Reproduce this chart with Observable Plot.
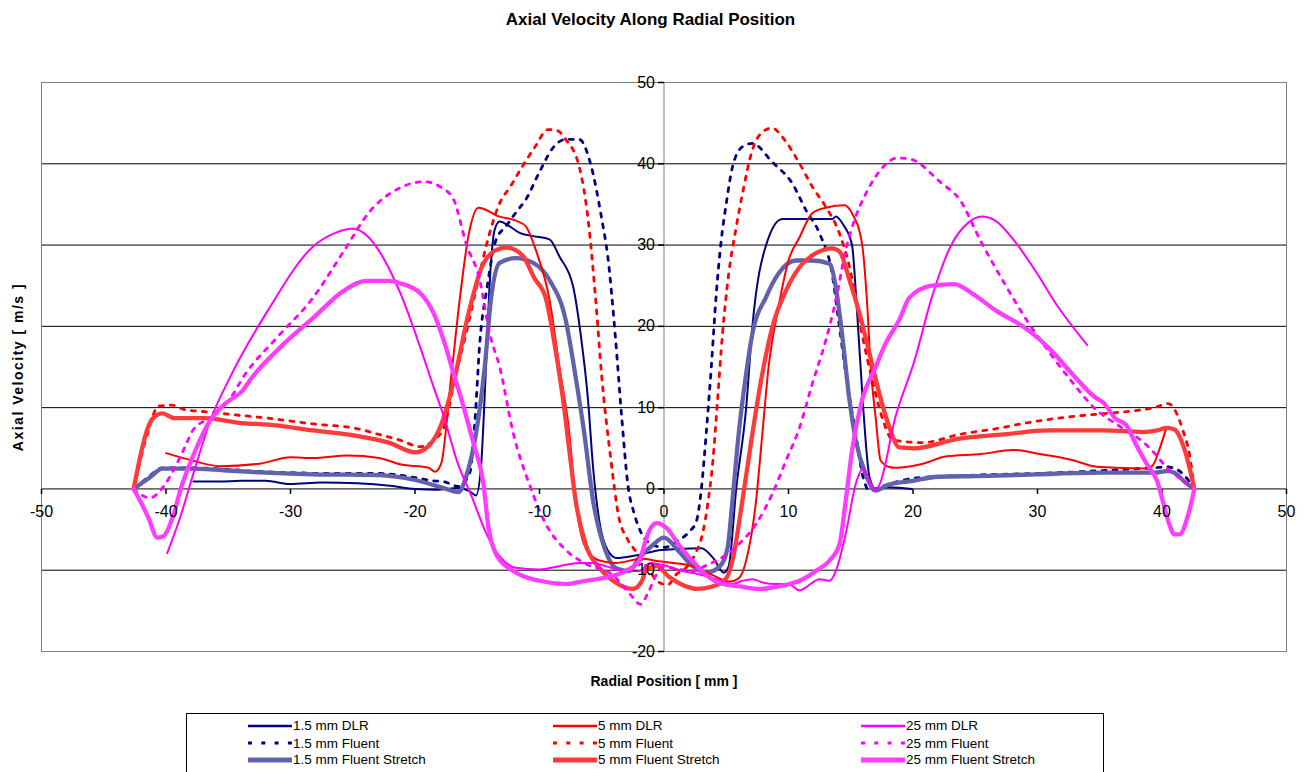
<!DOCTYPE html>
<html><head><meta charset="utf-8">
<script src="https://cdn.jsdelivr.net/npm/d3@7"></script>
<script src="https://cdn.jsdelivr.net/npm/@observablehq/plot@0.6"></script>
<style>
body{margin:0;background:#fff;width:1306px;height:772px;overflow:hidden;position:relative;font-family:"Liberation Sans",Arial,sans-serif;}
#title{height:50px;position:relative}
#title span{position:absolute;left:0;width:1301px;text-align:center;top:10px;font-weight:bold;font-size:17px;color:#000}
#chart svg{display:block}
#legend{position:absolute;left:186px;top:713px;width:918px;height:70px;border:1px solid #000;box-sizing:border-box;background:#fff}
.item{position:absolute;height:17px;display:flex;align-items:center;font-family:"Liberation Sans Narrow","Arial Narrow","Liberation Sans",sans-serif;font-size:13.5px;color:#000;white-space:nowrap}
.item svg{display:block;margin-right:1px}
</style></head><body>
<div id="title"><span>Axial Velocity Along Radial Position</span></div>
<div id="chart"></div>
<div id="legend"></div>
<script>
// ---- data (x = radial position mm, y = axial velocity m/s)
const xTicks = [-50,-40,-30,-20,-10,0,10,20,30,40,50];
const yTicks = [-20,-10,0,10,20,30,40,50];
const gridY = [-10,10,20,30,40];

const dlr15 = [[-37.8,0.9],[-35.7,0.9],[-34,1.0],[-32,1.0],[-30,0.6],[-27.5,0.8],[-24.6,0.7],[-22,0.4],[-20,0.0],[-18.2,-0.1],[-16.6,0.1],[-15.6,-0.3],[-15.1,-0.8],[-14.7,2.7],[-14.3,15],[-14.0,25.3],[-13.6,31.9],[-13.2,32.9],[-12.4,32.3],[-11.6,31.5],[-10.5,31.1],[-9.2,30.7],[-8.4,28.6],[-7.3,24.9],[-6.7,19.1],[-6.1,10.9],[-5.7,2.7],[-5.2,-3.9],[-4.5,-7.6],[-3.8,-8.5],[-2.3,-8.2],[-0.2,-7.5],[3.0,-7.3],[4.0,-8.6],[4.8,-10.3],[5.2,-9.5],[5.8,0],[6.6,10],[7.1,20],[8.2,30],[9.5,33.2],[13.5,33.2],[13.8,33.5],[14.4,32.5],[15.1,30],[15.5,22],[16,10],[16.5,1.5],[17,0],[18,0.2],[19.9,0]];
const flu15 = [[-42.6,0],[-41.3,1.6],[-40.3,2.6],[-38,2.6],[-35,2.4],[-33.2,2.2],[-30,2.0],[-26.8,1.9],[-23,1.9],[-21.8,1.8],[-20,1.4],[-18.5,1.0],[-17.7,0.9],[-16.5,0.3],[-15.6,2],[-15.2,8],[-14.8,17.9],[-14.2,24.9],[-13.5,30.6],[-12.7,32.3],[-11.9,34],[-11.1,35.6],[-10,39],[-8.9,42],[-7.9,43],[-6.8,43],[-5.9,40],[-5.0,33.2],[-4.5,28.4],[-3.9,18.6],[-3.4,8.9],[-2.9,0.5],[-2.4,-3],[-1.8,-5.5],[-1,-6.8],[0,-7.2],[1,-6.5],[2,-5.3],[2.6,-4],[3.0,0],[3.4,7],[3.8,15],[4.2,24],[4.6,30.6],[5.0,35.1],[5.5,39.6],[6.3,42.1],[7.1,42.5],[8.7,40.2],[10.3,37.6],[11.4,34.3],[12.5,31.4],[13.5,26.5],[14.0,21],[14.6,14.2],[15.4,6.8],[16,1.4],[16.5,-0.2],[17.5,0.3],[20,1.3],[25,1.7],[30,1.9],[35.8,2.3],[39.4,2.6],[40.4,2.7],[41.3,2.3],[42.2,0.9],[42.6,0]];
const str15 = [[-42.6,0],[-41.3,1.4],[-40.3,2.5],[-38.1,2.5],[-35.4,2.3],[-33.2,2.1],[-28.2,1.8],[-22.9,1.7],[-20,1.1],[-17.9,0.2],[-16.5,-0.4],[-15.9,1.5],[-15.1,6.8],[-14.4,15],[-13.9,23.3],[-13.2,27.8],[-11.9,28.4],[-10.5,27.8],[-9.2,25.7],[-7.9,20.8],[-7.1,13.8],[-6.4,6.8],[-5.7,-1.4],[-4.7,-7.6],[-3.8,-9.8],[-2.8,-10.1],[-2.0,-8.5],[-0.9,-6.9],[0,-6.0],[1.2,-7.7],[2.3,-9.5],[3.4,-10.3],[4.5,-9.5],[5.1,-7.3],[5.5,-1.4],[6.0,6.8],[6.6,14.2],[7.1,19.1],[8.2,23.6],[9.2,26.5],[10.6,28.1],[11.9,28.1],[13.3,27.7],[13.8,24.8],[14.3,19.1],[14.9,10.9],[15.4,6],[16.2,1.8],[17.0,-0.2],[18,0.5],[20,1.0],[22,1.5],[26,1.6],[30,1.8],[35.3,2.0],[39.4,2.0],[40.4,2.2],[41.0,2.0],[41.8,0.9],[42.6,0]];

const dlr5 = [[-40,4.4],[-37.9,3.5],[-35.7,2.8],[-32.5,3.1],[-30,3.9],[-28.2,3.8],[-25.4,4.1],[-22.9,3.8],[-21.1,3.0],[-18.9,2.6],[-18.4,2.1],[-17.9,3.1],[-17.1,13.7],[-16.4,23.4],[-15.7,31.2],[-14.9,34.6],[-13.2,33.5],[-11.9,33.0],[-11.1,32.3],[-10.3,29.4],[-9.2,23.3],[-8.4,15],[-7.6,6.8],[-7.1,-1.4],[-6.3,-7.2],[-5.2,-8.8],[-3.9,-9.1],[-1.8,-8.6],[-0.4,-8.9],[0.7,-9.1],[2.3,-9.5],[3.9,-10.6],[5.3,-11.4],[6.0,-11],[6.6,-8.8],[7.4,-1.4],[7.9,6.8],[8.4,15],[9.2,22.4],[10,28.1],[10.9,31],[11.9,33.9],[13.0,34.6],[14.5,34.9],[15.1,33.9],[15.9,30.2],[16.3,23.2],[16.6,15],[17.0,8.8],[17.4,3.5],[18.1,2.7],[18.6,2.6],[20.8,3.1],[22.6,4],[25.5,4.3],[28,4.8],[30.2,4.3],[32.7,3.6],[34.5,2.8],[36.3,2.6],[38.8,2.5],[39.3,3.0],[39.8,4.9],[40.3,7.3]];
const flu5 = [[-42.6,0],[-41.5,6.7],[-40.6,10.2],[-39.5,10.3],[-38.6,9.8],[-36.9,9.5],[-35,9.2],[-31.8,8.7],[-28.2,8],[-24.6,7.4],[-22.9,6.7],[-21.2,6],[-19.6,5.2],[-18.5,6],[-17.7,7.5],[-16.7,14.2],[-15.9,19.1],[-15.1,24.5],[-14.0,31.5],[-13.3,34.8],[-12.3,37.3],[-11.4,39.6],[-10.4,42],[-9.3,44.2],[-8.6,44.1],[-7.9,43],[-6.8,39.6],[-6.1,33.2],[-5.5,23.5],[-5.0,13.8],[-4.3,4],[-3.6,-3.7],[-3.0,-6],[-2.2,-7.8],[-1.2,-10],[-0.5,-11.4],[0.3,-11.8],[1.0,-10.5],[1.7,-9.8],[2.5,-8],[3.1,-5.5],[3.5,-2],[3.9,3],[4.3,10.9],[4.7,19.1],[5.2,26.5],[5.8,32.2],[6.3,36.3],[7.1,41.7],[7.9,43.9],[8.7,44.4],[9.5,43.3],[10.9,40],[11.9,37.2],[13,34.7],[14.1,31.4],[14.9,27.3],[15.9,19.1],[16.8,12.9],[17.6,8.4],[18.4,6],[20.8,5.7],[23.7,6.7],[26.6,7.4],[29.8,8.3],[32.7,8.9],[35.6,9.3],[37.7,9.6],[39.4,10],[40.5,10.5],[41,9.8],[41.7,7.1],[42.2,4.3],[42.6,0]];
const str5 = [[-42.6,0],[-41.1,8.6],[-40.3,9.3],[-39.3,8.7],[-36.9,8.7],[-33.9,8.1],[-31.8,7.9],[-28.2,7.2],[-24.6,6.5],[-22.1,5.7],[-20,4.5],[-18.9,5.3],[-17.9,7.9],[-16.8,13.8],[-15.7,21.6],[-14.6,27.4],[-13.6,29.3],[-12.7,29.7],[-11.4,28.8],[-10.4,25.9],[-9.5,23.5],[-8.7,17],[-8.1,10.9],[-7.6,4.7],[-7.1,-1.4],[-6.3,-6.8],[-5.2,-9.7],[-4.1,-11.3],[-2.5,-12.3],[-1.8,-11.4],[-1.4,-9.9],[-0.6,-9.5],[0.4,-10.8],[1.8,-12],[2.6,-12.3],[3.9,-12],[5.0,-11],[5.5,-8.8],[6.3,-1.4],[7.1,6.8],[7.9,14.2],[8.7,19.9],[9.8,24.4],[10.9,27.3],[12.2,29],[13.5,29.6],[14.1,29.2],[14.9,25.7],[15.7,21.6],[16.5,16.7],[17.3,11.7],[18.1,7.6],[18.9,5.1],[20.1,5],[23.7,6.2],[27.3,6.7],[30.9,7.2],[35.3,7.2],[38.5,7.0],[39.6,7.2],[40.4,7.5],[41,7.3],[41.8,4.9],[42.6,0]];

const dlr25 = [[-39.9,-7.9],[-38.8,-3.2],[-37.7,2.4],[-36.4,8.6],[-35,13.3],[-31.8,22],[-28.2,29.8],[-26.4,31.5],[-25,32],[-23.9,31.2],[-22.5,28.3],[-21.1,23.8],[-19.6,17.5],[-18.5,12.5],[-17.7,9],[-16.6,3.3],[-15.4,-1.1],[-14.3,-5.4],[-13.2,-8.3],[-11.9,-9.7],[-10,-9.9],[-8.4,-9.5],[-6.8,-9.1],[-5.7,-9.1],[-4.7,-9.5],[-3.1,-10.1],[-2,-10.1],[-1.1,-9.1],[0,-9.4],[1.5,-10.1],[2.8,-10.5],[4.2,-11.1],[5.5,-11.7],[6.3,-11.3],[7.1,-11.1],[7.9,-11.5],[9,-11.7],[10,-11.7],[10.9,-12.5],[11.4,-12.1],[12.5,-11.1],[13.3,-11.3],[13.8,-10.1],[14.6,-5.5],[15.4,0.6],[16.0,2.5],[16.5,1.0],[16.9,-0.2],[17.3,0.5],[18.6,8.9],[20.1,15.7],[21.5,23.5],[23,29.8],[24.4,32.7],[25.5,33.5],[26.6,33],[28,30.8],[29.8,26.9],[31.6,22.5],[34,17.7]];
const flu25 = [[-42.6,0],[-41.3,-1.1],[-40.2,0.3],[-39.3,2.6],[-38.5,5.1],[-37.8,7.3],[-36.4,8.8],[-35,10.8],[-33.6,14.2],[-31.1,18.6],[-28.2,23.5],[-25.7,29.3],[-23.6,34.2],[-21.5,36.8],[-19.3,37.8],[-17.9,37.1],[-16.9,35.6],[-15.9,30.2],[-14.8,25.7],[-14,19.1],[-13.2,15],[-12.1,6.8],[-10.8,0.5],[-9.5,-4.3],[-7.9,-7.5],[-6.3,-9.2],[-4.1,-10.6],[-2.7,-13],[-1.9,-14.2],[-1.2,-12.5],[-0.6,-10.5],[0,-9.6],[1.2,-9.9],[2.3,-10.1],[3.4,-9.4],[4.7,-8.4],[6,-6.8],[7.4,-4.3],[8.7,-0.6],[9.8,3.5],[10.9,7.6],[11.9,12.9],[13,18.3],[13.8,23.2],[14.6,29.4],[15.4,33.5],[16.2,36.3],[17.6,39.6],[18.7,40.7],[19.7,40.6],[22.3,37.6],[23.7,35.7],[25.5,30.3],[27.3,25.4],[29.2,20.6],[31,16.7],[32.7,13.3],[34.6,9.9],[36.5,7.8],[38.3,6],[39.4,4.4],[40.4,2.6],[41.8,0.9],[42.6,0]];
const str25 = [[-42.6,0],[-41.8,-2.3],[-41.4,-3.6],[-40.7,-6.0],[-40.2,-5.8],[-39.4,-3.2],[-38.8,0.1],[-38.1,3],[-37.3,5.9],[-36.5,8.3],[-35.4,10.3],[-34.6,11.2],[-33.9,12],[-33.2,13.5],[-30.7,17.6],[-28.2,21],[-25.7,24.4],[-23.9,25.6],[-22.1,25.6],[-21.2,25.3],[-19.6,24.1],[-18.5,21.6],[-17.7,18.3],[-16.9,14.2],[-16.1,10.1],[-15.3,5.6],[-14.5,0.6],[-14.1,-4.7],[-13.5,-8],[-12.1,-10.1],[-10,-11.3],[-7.9,-11.7],[-6.3,-11.3],[-4.7,-10.9],[-3.1,-10.1],[-2.0,-8.9],[-1.5,-6.5],[-1.2,-5.2],[-0.6,-4.2],[0.2,-4.8],[1.2,-6.9],[2.3,-8.9],[3.4,-10.6],[4.5,-11.6],[6.1,-12],[7.7,-12.3],[9.5,-11.9],[10.9,-11.3],[12.2,-10.1],[13.3,-8.8],[14.1,-6.8],[14.6,-1.4],[15.1,4.7],[15.9,10.9],[17,15],[17.8,17.9],[18.9,20.8],[19.7,23.5],[21.5,25],[23.3,25.2],[24.8,24],[26.6,22],[29.2,19.6],[31,17.2],[32.7,14.3],[34.6,11.3],[35.3,10.6],[36.3,8.6],[37.1,7.9],[37.9,5.5],[38.8,3],[39.6,1],[40.2,-2.3],[40.6,-4.4],[41,-5.6],[41.4,-5.6],[42.1,-3.2],[42.6,0]];

const seriesNames = ["1.5 mm DLR","1.5 mm Fluent","1.5 mm Fluent Stretch","5 mm DLR","5 mm Fluent","5 mm Fluent Stretch","25 mm DLR","25 mm Fluent","25 mm Fluent Stretch"];
const seriesData = [dlr15, flu15, str15, dlr5, flu5, str5, dlr25, flu25, str25];

// ---- styles
const colors = ["#000080","#000080","#6262AC","#FF0000","#FF0000","#FF3A3A","#FF00FF","#FF00FF","#FF3CFF"];
const widths = [2, 2.8, 4.3, 2, 2.8, 4.3, 2, 2.8, 4.3];
const dashes = [null,"4,7",null,null,"4,7",null,null,"4,7",null];

const tickDown = {draw(ctx){ctx.moveTo(0,0);ctx.lineTo(0,5);}};
const tickLeft = {draw(ctx){ctx.moveTo(-6,0);ctx.lineTo(0,0);}};
const narrow = '"Liberation Sans Narrow","Arial Narrow","Liberation Sans",sans-serif';
const bold = '"Liberation Sans",Arial,sans-serif';

const lineMarks = seriesData.map((d,i) => Plot.line(d, {
  x: p => p[0], y: p => p[1], stroke: colors[i], strokeWidth: widths[i],
  strokeDasharray: dashes[i] || undefined, curve: "monotone-x", strokeLinejoin: "round"
}));

const chart = Plot.plot({
  width: 1306, height: 655,
  marginTop: 32, marginBottom: 54, marginLeft: 41, marginRight: 20,
  x: {domain: [-50, 50], axis: null},
  y: {domain: [-20, 50], axis: null},
  style: {background: "transparent", overflow: "visible", fontFamily: narrow, fontSize: "16px", color: "#000"},
  marks: [
    Plot.ruleY(gridY, {stroke: "#000", strokeWidth: 1}),
    Plot.ruleY([0], {stroke: "#000", strokeWidth: 1}),
    Plot.ruleX([0], {stroke: "#808080", strokeWidth: 1}),
    Plot.frame({stroke: "#808080", strokeWidth: 1}),
    Plot.dot(xTicks, {x: d => d, y: () => 0, symbol: tickDown, stroke: "#000", fill: "none", r: 3}),
    Plot.dot(yTicks, {x: () => 0, y: d => d, symbol: tickLeft, stroke: "#000", fill: "none", r: 3}),
    ...lineMarks,
    Plot.text(xTicks, {x: d => d, y: () => 0, dy: 23, text: d => String(d), fill: "#000", fontSize: 16}),
    Plot.text(yTicks, {x: () => 0, y: d => d, dx: -9, textAnchor: "end", text: d => String(d), fill: "#000", fontSize: 16}),
    Plot.text(["Radial Position [ mm ]"], {frameAnchor: "bottom", lineAnchor: "middle", textAnchor: "middle", dy: 30, text: d => d, fontWeight: "bold", fontSize: 14, fontFamily: bold, fill: "#000"}),
    Plot.text(["Axial Velocity [ m/s ]"], {frameAnchor: "left", textAnchor: "middle", lineAnchor: "middle", dx: -23, rotate: -90, text: d => d, fontWeight: "bold", fontSize: 14, fontFamily: bold, fill: "#000"})
  ]
});
d3.select(chart).selectAll("text").filter(function(){ return this.textContent === "Axial Velocity [ m/s ]"; }).attr("letter-spacing", "1.5px");
document.getElementById("chart").appendChild(chart);

// ---- legend
const legend = document.getElementById("legend");
const colLeft = [61, 366, 674];
const rowTop = [3, 20.5, 37];
seriesNames.forEach((name, i) => {
  const col = Math.floor(i / 3), row = i % 3;
  const item = document.createElement("div");
  item.className = "item";
  item.style.left = colLeft[col] + "px";
  item.style.top = rowTop[row] + "px";
  const svg = d3.create("svg").attr("width", 44).attr("height", 10);
  svg.append("line").attr("x1", 0).attr("x2", 44).attr("y1", 5).attr("y2", 5)
    .attr("stroke", colors[i])
    .attr("stroke-width", row === 0 ? 2.6 : row === 1 ? 3 : 5)
    .attr("stroke-dasharray", dashes[i] ? "4,9.3" : null);
  item.appendChild(svg.node());
  const span = document.createElement("span");
  span.textContent = name;
  item.appendChild(span);
  legend.appendChild(item);
});
</script>
</body></html>
